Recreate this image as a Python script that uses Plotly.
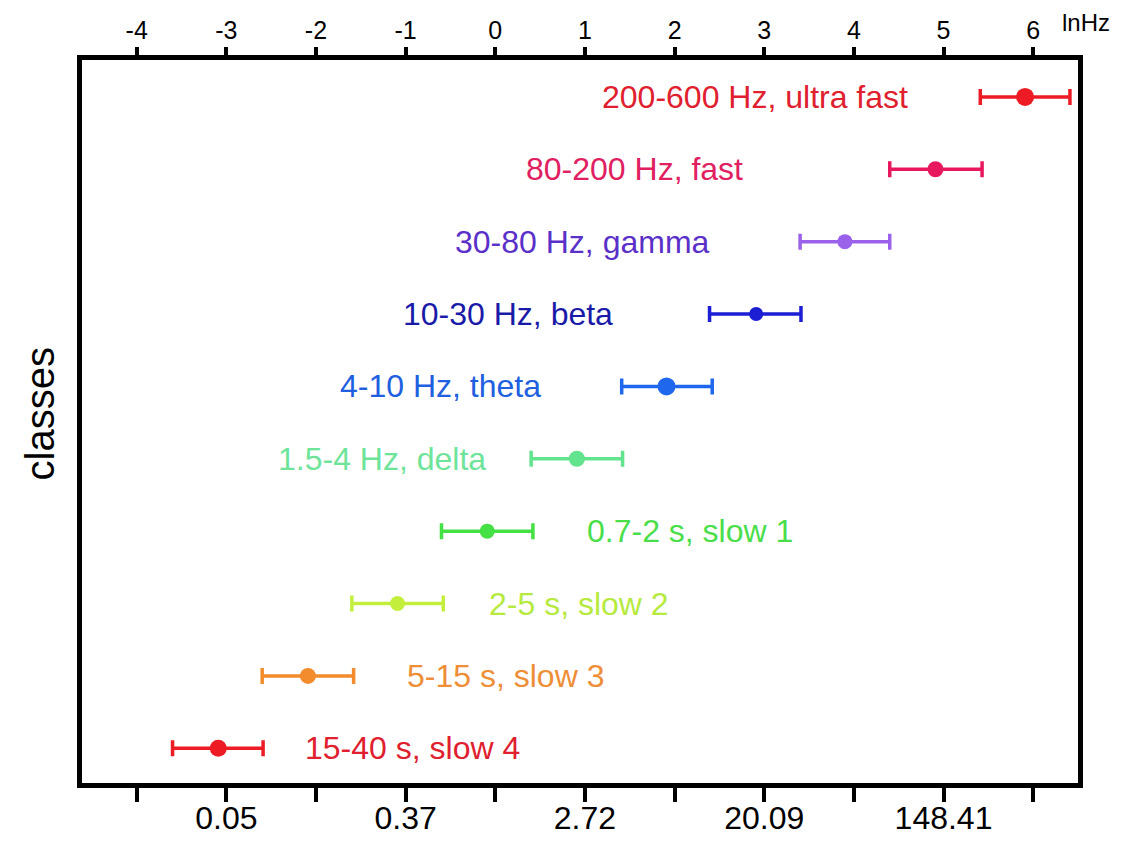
import plotly.graph_objects as go

# ---- data (ln Hz) ----
classes = ["15-40 s, slow 4", "5-15 s, slow 3", "2-5 s, slow 2", "0.7-2 s, slow 1",
           "1.5-4 Hz, delta", "4-10 Hz, theta", "10-30 Hz, beta", "30-80 Hz, gamma",
           "80-200 Hz, fast", "200-600 Hz, ultra fast"]
centers = [-3.09, -2.09, -1.09, -0.09, 0.91, 1.91, 2.91, 3.90, 4.91, 5.91]
lows    = [-3.60, -2.60, -1.60, -0.60, 0.40, 1.41, 2.39, 3.40, 4.40, 5.41]
highs   = [-2.59, -1.58, -0.58, 0.42, 1.42, 2.42, 3.41, 4.40, 5.43, 6.41]
bottom_tick_vals = [-4, -3, -2, -1, 0, 1, 2, 3, 4, 5, 6]
bottom_tick_text = ["", "0.05", "", "0.37", "", "2.72", "", "20.09", "", "148.41", ""]
top_tick_text = ["-4", "-3", "-2", "-1", "0", "1", "2", "3", "4", "5", "6"]

# ---- styles / layout ----
colors = ["#ec1b24", "#f28c2c", "#c4ee3c", "#44e044", "#62e48e",
          "#1f68ee", "#1c1ed4", "#9a62ea", "#e8185e", "#ec1b24"]
text_colors = ["#e0202e", "#ee8e36", "#b6ea3e", "#4ade4a", "#6ee49a",
               "#2060e0", "#1a1aa8", "#5a30c8", "#e02060", "#e0202e"]
marker_sizes = [17, 16, 15, 15, 16, 18, 14, 15, 16, 18]
label_x = [-2.15, -1.01, -0.09, 1.00, -0.08, 0.53, 1.33, 2.42, 2.78, 4.63]
label_side = ["left", "left", "left", "left", "right", "right", "right", "right", "right", "right"]

FONT = "Liberation Sans, Arial, Helvetica, sans-serif"

fig = go.Figure()
for i, name in enumerate(classes):
    y = i + 1
    fig.add_trace(go.Scatter(
        x=[centers[i]], y=[y], mode="markers",
        marker=dict(color=colors[i], size=marker_sizes[i]),
        error_x=dict(type="data", symmetric=False,
                     array=[highs[i] - centers[i]],
                     arrayminus=[centers[i] - lows[i]],
                     color=colors[i], thickness=3.5, width=8),
        showlegend=False, hoverinfo="skip"))
    fig.add_annotation(x=label_x[i], y=y, xref="x", yref="y", text=name,
                       showarrow=False, xanchor=label_side[i], yanchor="middle",
                       font=dict(family=FONT, size=32, color=text_colors[i]))

# invisible trace for top axis
fig.add_trace(go.Scatter(x=[centers[0]], y=[1], xaxis="x2", mode="markers",
                         marker=dict(opacity=0), showlegend=False, hoverinfo="skip"))

xr = [-4.61, 6.50]
fig.update_layout(
    width=1126, height=841,
    margin=dict(l=82, r=48, t=60, b=58, autoexpand=False),
    paper_bgcolor="white", plot_bgcolor="white",
    font=dict(family=FONT, color="black"),
    xaxis=dict(range=xr, tickmode="array", tickvals=bottom_tick_vals, ticktext=bottom_tick_text,
               ticks="outside", ticklen=14, tickwidth=4, tickcolor="black",
               ticklabelstandoff=-11,
               showline=True, linewidth=5, linecolor="black", mirror=True, automargin=False,
               showgrid=False, zeroline=False, tickfont=dict(size=32, family=FONT)),
    xaxis2=dict(range=xr, overlaying="x", side="top", tickmode="array",
                tickvals=bottom_tick_vals, ticktext=top_tick_text, automargin=False,
                ticks="outside", ticklen=12, tickwidth=4, tickcolor="black",
                ticklabelstandoff=-2,
                showline=False, showgrid=False, zeroline=False,
                tickfont=dict(size=25, family=FONT)),
    yaxis=dict(range=[0.52, 10.51], showline=True, linewidth=5, linecolor="black",
               mirror=True, showticklabels=False, ticks="", showgrid=False, zeroline=False,
               automargin=False),
)

fig.add_annotation(x=1.008, y=1.052, xref="paper", yref="paper", text="lnHz",
                   showarrow=False, xanchor="center", yanchor="middle",
                   font=dict(family=FONT, size=24, color="black"))
fig.add_annotation(x=-0.042, y=0.51, xref="paper", yref="paper", text="classes",
                   showarrow=False, textangle=-90, xanchor="center", yanchor="middle",
                   font=dict(family=FONT, size=40, color="black"))

fig.write_html("out.html")
